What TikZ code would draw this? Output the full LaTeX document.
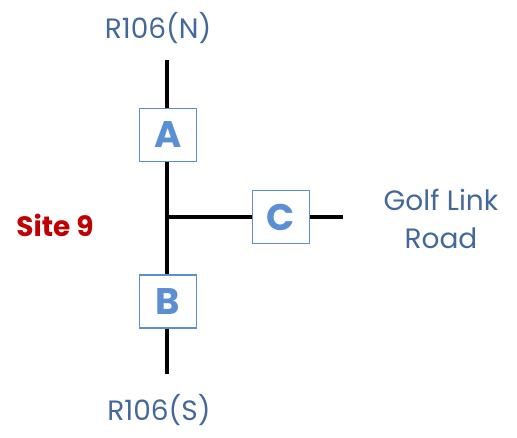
\documentclass[tikz,border=0pt]{standalone}
\usepackage{fontspec}
\setmainfont{Poppins}
\usetikzlibrary{positioning}

\definecolor{roadblue}{HTML}{44689A}
\definecolor{boxblue}{HTML}{5B8FD3}
\definecolor{sitered}{HTML}{C00000}

\begin{document}
\begin{tikzpicture}[
        x=1pt, y=-1pt,
        box/.style={
            rectangle,
            draw=boxblue,
            line width=1.5pt,
            fill=white,
            minimum width=57pt,
            minimum height=53pt,
            inner sep=0pt,
            text=boxblue,
            font=\fontsize{37}{37}\selectfont\bfseries
        },
        road/.style={
            line width=4.5pt,
            black
        },
        roadname/.style={
            text=roadblue,
            align=center,
            font=\fontsize{28}{38}\selectfont
        }
    ]
    \useasboundingbox (0,0) rectangle (517,438);

    % Road ends and junction
    \coordinate (ntop) at (167,60);
    \coordinate (sbot) at (167,374);
    \coordinate (junc) at (167,217);
    \coordinate (eend) at (343,217);

    % Approach boxes
    \node[box] (A) at (168,135) {A};
    \node[box, below=112pt of A] (B) {B};
    \node[box] (C) at (281,217) {C};

    % Roads
    \draw[road] (ntop) -- (ntop |- A.north);
    \draw[road] (ntop |- A.south) -- (ntop |- B.north);
    \draw[road] (ntop |- B.south) -- (sbot);
    \draw[road] (junc) -- (C);
    \draw[road] (C) -- (eend);

    % Labels
    \node[roadname] (north) at (158,28) {R106(N)};
    \node[roadname] (south) at (159,410) {R106(S)};
    \node[roadname] (golf) at (441,219) {Golf Link\\Road};
    \node[text=sitered, font=\fontsize{28}{30}\selectfont\bfseries] (site) at (55,225) {Site 9};

\end{tikzpicture}
\end{document}
